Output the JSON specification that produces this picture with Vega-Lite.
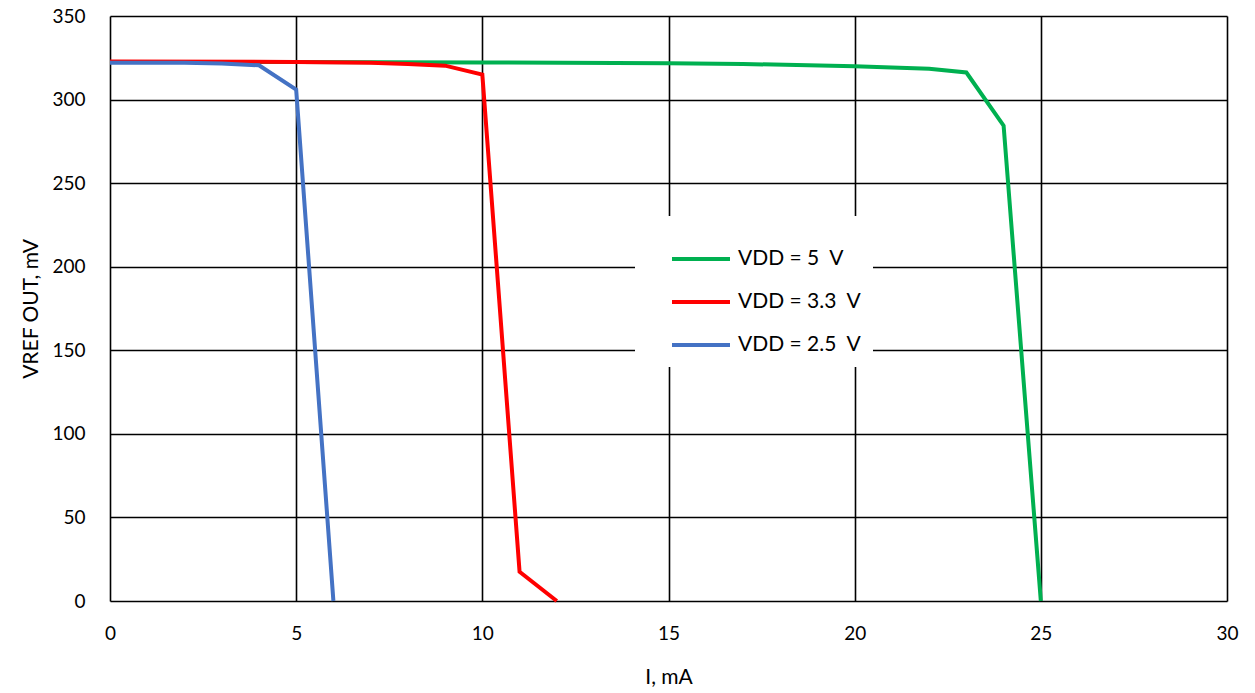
{
  "$schema": "https://vega.github.io/schema/vega-lite/v6.json",
  "autosize": "none",
  "width": 1117,
  "height": 585,
  "padding": {"left": 110, "top": 16, "right": 28, "bottom": 92},
  "background": "white",
  "config": {
    "font": "Lato",
    "view": {"stroke": null},
    "axis": {
      "grid": true,
      "gridColor": "#000000",
      "gridWidth": 1.6,
      "gridOpacity": 1,
      "domain": false,
      "ticks": false,
      "labelFlush": false,
      "labelFont": "Lato",
      "labelFontSize": 19,
      "labelColor": "#000000",
      "titleFont": "Lato",
      "titleFontSize": 21,
      "titleFontWeight": "normal",
      "titleColor": "#000000"
    }
  },
  "data": {
    "values": [
      {"I": 0, "V": 322.5, "s": "VDD = 5  V"},
      {"I": 5, "V": 322.5, "s": "VDD = 5  V"},
      {"I": 10, "V": 322.2, "s": "VDD = 5  V"},
      {"I": 15, "V": 321.8, "s": "VDD = 5  V"},
      {"I": 17, "V": 321.3, "s": "VDD = 5  V"},
      {"I": 20, "V": 320, "s": "VDD = 5  V"},
      {"I": 22, "V": 318.5, "s": "VDD = 5  V"},
      {"I": 23, "V": 316.2, "s": "VDD = 5  V"},
      {"I": 24, "V": 284.4, "s": "VDD = 5  V"},
      {"I": 25, "V": 0, "s": "VDD = 5  V"},
      {"I": 0, "V": 322.8, "s": "VDD = 3.3  V"},
      {"I": 5, "V": 322.5, "s": "VDD = 3.3  V"},
      {"I": 7, "V": 322, "s": "VDD = 3.3  V"},
      {"I": 8, "V": 321.3, "s": "VDD = 3.3  V"},
      {"I": 9, "V": 320.3, "s": "VDD = 3.3  V"},
      {"I": 10, "V": 315, "s": "VDD = 3.3  V"},
      {"I": 11, "V": 17.5, "s": "VDD = 3.3  V"},
      {"I": 12, "V": 0, "s": "VDD = 3.3  V"},
      {"I": 0, "V": 322, "s": "VDD = 2.5  V"},
      {"I": 1, "V": 322, "s": "VDD = 2.5  V"},
      {"I": 2, "V": 322, "s": "VDD = 2.5  V"},
      {"I": 3, "V": 321.6, "s": "VDD = 2.5  V"},
      {"I": 4, "V": 320.5, "s": "VDD = 2.5  V"},
      {"I": 5, "V": 306, "s": "VDD = 2.5  V"},
      {"I": 6, "V": 0, "s": "VDD = 2.5  V"}
    ]
  },
  "mark": {"type": "line", "strokeWidth": 4, "strokeCap": "butt", "strokeJoin": "miter"},
  "encoding": {
    "x": {
      "field": "I",
      "type": "quantitative",
      "scale": {"domain": [0, 30], "nice": false},
      "axis": {"values": [0, 5, 10, 15, 20, 25, 30], "title": "I, mA", "labelPadding": 23, "titlePadding": 23}
    },
    "y": {
      "field": "V",
      "type": "quantitative",
      "scale": {"domain": [0, 350], "nice": false},
      "axis": {"values": [0, 50, 100, 150, 200, 250, 300, 350], "title": "VREF OUT, mV", "labelPadding": 25, "titlePadding": 10}
    },
    "color": {
      "field": "s",
      "type": "nominal",
      "sort": ["VDD = 5  V", "VDD = 3.3  V", "VDD = 2.5  V"],
      "scale": {
        "domain": ["VDD = 5  V", "VDD = 3.3  V", "VDD = 2.5  V"],
        "range": ["#00B050", "#FF0000", "#4472C4"]
      },
      "legend": {
        "title": null,
        "orient": "none",
        "legendX": 525,
        "legendY": 200,
        "fillColor": "white",
        "padding": 12,
        "symbolType": "stroke",
        "symbolSize": 3364,
        "symbolStrokeWidth": 4,
        "symbolOffset": 23,
        "labelOffset": 6,
        "labelFont": "Lato",
        "labelFontSize": 21,
        "labelColor": "#000000",
        "labelExpr": "replace(datum.label, '  ', ' \u00a0')",
        "rowPadding": 2
      }
    }
  }
}
